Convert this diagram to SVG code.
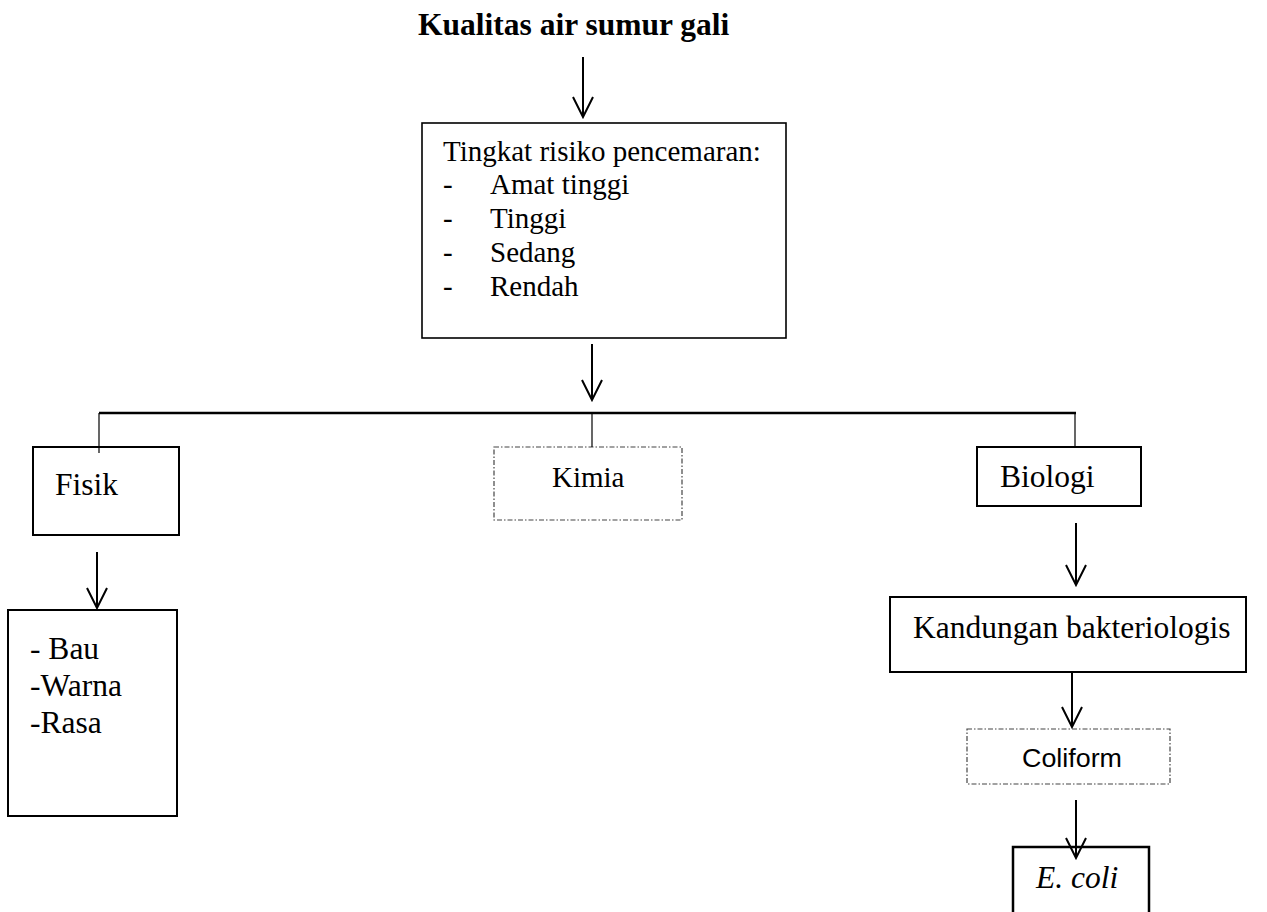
<svg xmlns="http://www.w3.org/2000/svg" width="1267" height="912" viewBox="0 0 1267 912">
<style>
text{font-family:"Liberation Serif","Times New Roman",serif;fill:#000}
.t31{font-size:31.5px}
.t29{font-size:29px}
.box{fill:#fff;stroke:#000}
.dash{fill:#fff;stroke:#444;stroke-width:1.2;stroke-dasharray:5 2 1.5 2}
.arr{stroke:#000;stroke-width:2;fill:none;marker-end:url(#ah)}
.thin{stroke:#000;stroke-width:1.2;fill:none}
</style>
<defs>
<marker id="ah" markerUnits="userSpaceOnUse" viewBox="-22 -12 24 24" markerWidth="24" markerHeight="24" refX="0" refY="0" orient="auto">
<path d="M-20,-10 L0,0 L-20,10" fill="none" stroke="#000" stroke-width="2"/>
</marker>
</defs>
<g id="title"><text x="418" y="35" style="font-size:31.5px;font-weight:bold">Kualitas air sumur gali</text></g>
<g id="risiko">
<rect class="box" x="422" y="123" width="364" height="215" stroke-width="1.6"/>
<text class="t29" x="443" y="161">Tingkat risiko pencemaran:</text>
<text class="t29" x="443" y="194">-</text><text class="t29" x="490" y="194">Amat tinggi</text>
<text class="t29" x="443" y="228">-</text><text class="t29" x="490" y="228">Tinggi</text>
<text class="t29" x="443" y="262">-</text><text class="t29" x="490" y="262">Sedang</text>
<text class="t29" x="443" y="296">-</text><text class="t29" x="490" y="296">Rendah</text>
</g>
<g id="fisik">
<rect class="box" x="33" y="447" width="146" height="88" stroke-width="2"/>
<text class="t31" x="55" y="495">Fisik</text>
</g>
<g id="kimia">
<rect class="dash" x="494" y="447" width="188" height="73"/>
<text class="t29" x="552" y="487">Kimia</text>
</g>
<g id="biologi">
<rect class="box" x="977" y="447" width="164" height="59" stroke-width="2"/>
<text class="t31" x="1000" y="487">Biologi</text>
</g>
<g id="fisik-items">
<rect class="box" x="8" y="610" width="169" height="206" stroke-width="2"/>
<text class="t31" x="30" y="659">- Bau</text>
<text class="t31" x="30" y="696">-Warna</text>
<text class="t31" x="30" y="733">-Rasa</text>
</g>
<g id="kandungan">
<rect class="box" x="890" y="597" width="356" height="75" stroke-width="2"/>
<text class="t31" x="913" y="638">Kandungan bakteriologis</text>
</g>
<g id="coliform">
<rect class="dash" x="967" y="729" width="203" height="55"/>
<text x="1022" y="767" style="font-family:'Liberation Sans',Arial,sans-serif;font-size:26px" textLength="100" lengthAdjust="spacingAndGlyphs">Coliform</text>
</g>
<g id="ecoli">
<rect class="box" x="1013" y="847" width="136" height="75" stroke-width="2.5"/>
<text class="t31" x="1036" y="888" font-style="italic">E. coli</text>
</g>
<g id="connectors">
<line class="arr" x1="583" y1="57" x2="583" y2="117"/>
<line class="arr" x1="592" y1="344" x2="592" y2="400"/>
<line x1="99" y1="413" x2="1076" y2="413" stroke="#000" stroke-width="2.5"/>
<line class="thin" x1="99" y1="413" x2="99" y2="453"/>
<line class="thin" x1="592" y1="413" x2="592" y2="447"/>
<line class="thin" x1="1075" y1="413" x2="1075" y2="447"/>
<line class="arr" x1="97" y1="552" x2="97" y2="608"/>
<line class="arr" x1="1076" y1="523" x2="1076" y2="585"/>
<line class="arr" x1="1072" y1="672" x2="1072" y2="727"/>
<line class="arr" x1="1076" y1="800" x2="1076" y2="858"/>
</g>
</svg>
